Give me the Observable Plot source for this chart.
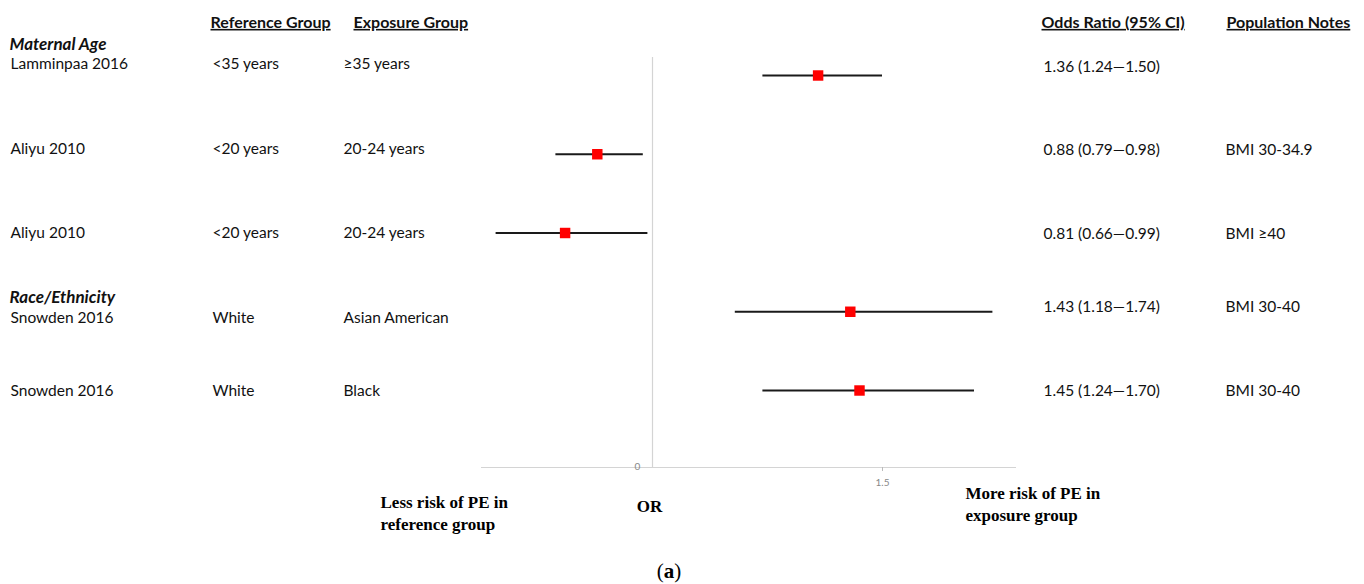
<!DOCTYPE html>
<html>
<head>
<meta charset="utf-8">
<script src="https://cdn.jsdelivr.net/npm/d3@7"></script>
<script src="https://cdn.jsdelivr.net/npm/@observablehq/plot@0.6"></script>
<style>
  html, body { margin: 0; padding: 0; background: #fff; overflow: hidden; }
  #wrap { position: relative; width: 1364px; height: 584px; }
  #chart svg { display: block; }
  #caption { position: absolute; left: 0; top: 558px; width: 1338px; text-align: center;
             font-family: "Liberation Serif", serif; font-size: 21px; line-height: 26px; color: #000; }
</style>
</head>
<body>
<div id="wrap">
  <div id="chart"></div>
  <div id="caption">(<b>a</b>)</div>
</div>
<script>
// ---- data ----
const studies = ["Lamminpaa 2016", "Aliyu 2010", "Aliyu 2010", "Snowden 2016", "Snowden 2016"];
const groups = ["Maternal Age", "Maternal Age", "Maternal Age", "Race/Ethnicity", "Race/Ethnicity"];
const referenceGroups = ["<35 years", "<20 years", "<20 years", "White", "White"];
const exposureGroups = ["≥35 years", "20-24 years", "20-24 years", "Asian American", "Black"];
const oddsRatios = [1.36, 0.88, 0.81, 1.43, 1.45];
const ciLower = [1.24, 0.79, 0.66, 1.18, 1.24];
const ciUpper = [1.50, 0.98, 0.99, 1.74, 1.70];
const populationNotes = ["", "BMI 30-34.9", "BMI ≥40", "BMI 30-40", "BMI 30-40"];
const columnHeaders = ["Reference Group", "Exposure Group", "Odds Ratio (95% CI)", "Population Notes"];
const xTickValues = [1.5];
const nullValue = 1;
const leftNote = "Less risk of PE in\nreference group";
const rightNote = "More risk of PE in\nexposure group";
const axisLabel = "OR";
const originLabel = "0";

// ---- table built from the arrays ----
const rows = studies.map((s, i) => ({
  i, study: s, group: groups[i], ref: referenceGroups[i], exp: exposureGroups[i],
  or: oddsRatios[i], lo: ciLower[i], hi: ciUpper[i], note: populationNotes[i],
  orText: `${oddsRatios[i].toFixed(2)} (${ciLower[i].toFixed(2)}\u2014${ciUpper[i].toFixed(2)})`
}));
const groupStarts = rows.filter((d, i) => i === 0 || groups[i - 1] !== d.group);

// ---- layout ----
const W = 1364, H = 550;
const mL = 481, mR = 348, mT = 57, mB = H - 467;
const pxPerUnit = 460;
const rowStep = 78.75, firstRowPx = 75;
const xDomain = [nullValue - (652 - mL) / pxPerUnit, nullValue + (W - mR - 652) / pxPerUnit];
const yDomain = [-(firstRowPx - mT) / rowStep, (H - mB - firstRowPx) / rowStep];
const leftShift = [-11, -5, 0, 6, 1];
const rightShift = [-8, -4, 1, -5, 1];
const bodyFont = "Lato";
const bodySize = 15.5;
const serif = "Liberation Serif";

const colText = (field, colX, shift) => rows.map((d, k) => Plot.text([d], {
  y: "i", text: field, frameAnchor: "left", textAnchor: "start",
  dx: colX - mL, dy: shift[k], fontFamily: bodyFont, fontSize: bodySize, fill: "#111"
}));

const headerX = [210, 353, 1041, 1226];
const headerMarks = columnHeaders.map((h, k) => Plot.text([h], {
  text: d => d, frameAnchor: "top-left", textAnchor: "start",
  dx: headerX[k] - mL, dy: 16 - mT, fontFamily: bodyFont, fontSize: 16,
  fontWeight: "bold", fill: "#111"
}));

const groupMarks = groupStarts.map(d => Plot.text([d], {
  y: "i", text: "group", frameAnchor: "left", textAnchor: "start",
  dx: 9 - mL, dy: leftShift[d.i] - 20, fontFamily: bodyFont, fontSize: 17,
  fontWeight: "bold", fontStyle: "italic", fill: "#111"
}));

const chart = Plot.plot({
  width: W, height: H,
  marginLeft: mL, marginRight: mR, marginTop: mT, marginBottom: mB,
  style: { fontFamily: bodyFont, background: "#fff", overflow: "visible" },
  x: { domain: xDomain, axis: null },
  y: { domain: yDomain, reverse: true, axis: null },
  marks: [
    Plot.ruleX([nullValue], { stroke: "#d4d4d4", strokeWidth: 1.2 }),
    Plot.ruleY([yDomain[1]], { stroke: "#d4d4d4", strokeWidth: 1.2 }),
    Plot.axisX(xTickValues, { tickSize: 4, tickPadding: 7, stroke: "#bbb", fill: "#888",
      fontSize: 10, fontFamily: bodyFont, tickFormat: d => String(d) }),
    Plot.text([nullValue], { x: d => d, text: () => originLabel, frameAnchor: "bottom",
      dx: -15, dy: 2, fill: "#888", fontSize: 10, fontFamily: bodyFont }),
    Plot.ruleY(rows, { y: "i", x1: "lo", x2: "hi", stroke: "#1a1a1a", strokeWidth: 2 }),
    Plot.dot(rows, { x: "or", y: "i", symbol: "square", r: 5.9, fill: "#ff0000", stroke: null }),
    ...headerMarks,
    ...groupMarks,
    ...colText("study", 10, leftShift),
    ...colText("ref", 212, leftShift),
    ...colText("exp", 343, leftShift),
    ...colText("orText", 1043, rightShift),
    ...colText("note", 1225, rightShift),
    Plot.text([leftNote], { text: d => d, frameAnchor: "bottom-left", textAnchor: "start",
      dx: 380 - mL, dy: 62, lineHeight: 1.25, fontFamily: serif, fontWeight: "bold",
      fontSize: 17, fill: "#000" }),
    Plot.text([rightNote], { text: d => d, frameAnchor: "bottom-left", textAnchor: "start",
      dx: 965 - mL, dy: 53, lineHeight: 1.28, fontFamily: serif, fontWeight: "bold",
      fontSize: 17, fill: "#000" }),
    Plot.text([nullValue], { x: d => d, text: () => axisLabel, frameAnchor: "bottom",
      dx: -3, dy: 44, fontFamily: serif, fontWeight: "bold", fontSize: 17, fill: "#000" })
  ]
});
d3.select(chart).selectAll("text")
  .filter(function () { return columnHeaders.includes(this.textContent); })
  .attr("text-decoration", "underline")
  .style("text-decoration", "underline");
document.getElementById("chart").appendChild(chart);
</script>
</body>
</html>
